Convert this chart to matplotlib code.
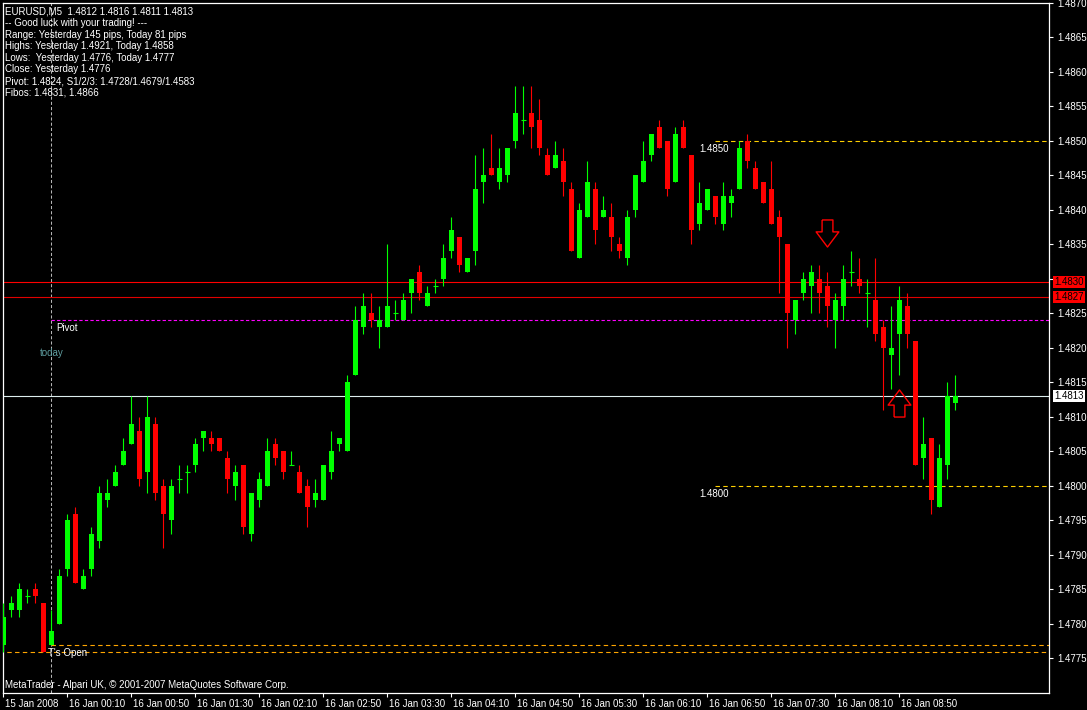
import numpy as np
import pandas as pd
import matplotlib
matplotlib.use('Agg')
import matplotlib.pyplot as plt
from matplotlib.path import Path
from matplotlib.transforms import ScaledTranslation, blended_transform_factory

plt.rcParams['font.family'] = ['Liberation Sans', 'DejaVu Sans']

# EURUSD M5, 15 Jan 2008 23:30 -> 16 Jan 2008 09:25
opens = np.array([
    1.4777, 1.4782, 1.4782, 1.4784, 1.4785, 1.4783, 1.4777, 1.4780, 1.4788, 1.4796,
    1.4785, 1.4788, 1.4792, 1.4798, 1.4800, 1.4803, 1.4806, 1.4808, 1.4802, 1.4809,
    1.4800, 1.4795, 1.4801, 1.4802, 1.4803, 1.4807, 1.4807, 1.4807, 1.4804, 1.4800,
    1.4803, 1.4793, 1.4798, 1.4800, 1.4806, 1.4805, 1.4803, 1.4802, 1.4800, 1.4798,
    1.4798, 1.4802, 1.4806, 1.4805, 1.4816, 1.4823, 1.4825, 1.4823, 1.4823, 1.4825,
    1.4824, 1.4828, 1.4831, 1.4826, 1.4829, 1.4830, 1.4834, 1.4836, 1.4831, 1.4834,
    1.4844, 1.4846, 1.4844, 1.4845, 1.4850, 1.4853, 1.4854, 1.4853, 1.4848, 1.4846,
    1.4847, 1.4843, 1.4833, 1.4839, 1.4843, 1.4839, 1.4839, 1.4835, 1.4833, 1.4840,
    1.4844, 1.4848, 1.4852, 1.4850, 1.4844, 1.4852, 1.4848, 1.4838, 1.4840, 1.4842,
    1.4838, 1.4841, 1.4843, 1.4850, 1.4846, 1.4844, 1.4843, 1.4839, 1.4835, 1.4824,
    1.4828, 1.4829, 1.4830, 1.4829, 1.4824, 1.4826, 1.4831, 1.4830, 1.4828, 1.4827,
    1.4823, 1.4819, 1.4822, 1.4826, 1.4821, 1.4804, 1.4807, 1.4797, 1.4803, 1.4812])
highs = np.array([
    1.4783, 1.4784, 1.4786, 1.4785, 1.4786, 1.4783, 1.4782, 1.4788, 1.4796, 1.4797,
    1.4788, 1.4794, 1.4800, 1.4801, 1.4803, 1.4807, 1.4813, 1.4810, 1.4813, 1.4810,
    1.4801, 1.4801, 1.4803, 1.4803, 1.4807, 1.4808, 1.4808, 1.4807, 1.4805, 1.4803,
    1.4803, 1.4799, 1.4802, 1.4807, 1.4807, 1.4805, 1.4805, 1.4803, 1.4801, 1.4801,
    1.4803, 1.4808, 1.4807, 1.4816, 1.4826, 1.4828, 1.4828, 1.4826, 1.4835, 1.4827,
    1.4828, 1.4830, 1.4832, 1.4829, 1.4830, 1.4835, 1.4839, 1.4836, 1.4833, 1.4848,
    1.4849, 1.4851, 1.4849, 1.4849, 1.4858, 1.4858, 1.4858, 1.4856, 1.4849, 1.4850,
    1.4849, 1.4844, 1.4841, 1.4847, 1.4844, 1.4842, 1.4841, 1.4836, 1.4840, 1.4845,
    1.4850, 1.4851, 1.4853, 1.4850, 1.4852, 1.4853, 1.4848, 1.4844, 1.4843, 1.4842,
    1.4844, 1.4843, 1.4850, 1.4851, 1.4847, 1.4844, 1.4847, 1.4840, 1.4835, 1.4827,
    1.4831, 1.4832, 1.4832, 1.4831, 1.4828, 1.4832, 1.4834, 1.4833, 1.4830, 1.4833,
    1.4824, 1.4826, 1.4829, 1.4828, 1.4821, 1.4810, 1.4807, 1.4806, 1.4815, 1.4816])
lows = np.array([
    1.4776, 1.4781, 1.4781, 1.4783, 1.4783, 1.4776, 1.4777, 1.4780, 1.4787, 1.4786,
    1.4785, 1.4787, 1.4791, 1.4797, 1.4800, 1.4803, 1.4806, 1.4800, 1.4799, 1.4798,
    1.4791, 1.4793, 1.4799, 1.4799, 1.4802, 1.4805, 1.4805, 1.4805, 1.4799, 1.4798,
    1.4793, 1.4792, 1.4797, 1.4800, 1.4803, 1.4801, 1.4803, 1.4799, 1.4794, 1.4797,
    1.4798, 1.4801, 1.4805, 1.4805, 1.4816, 1.4822, 1.4823, 1.4820, 1.4823, 1.4824,
    1.4824, 1.4825, 1.4827, 1.4826, 1.4828, 1.4829, 1.4833, 1.4831, 1.4831, 1.4832,
    1.4841, 1.4845, 1.4843, 1.4844, 1.4849, 1.4851, 1.4849, 1.4848, 1.4845, 1.4846,
    1.4842, 1.4834, 1.4833, 1.4839, 1.4835, 1.4839, 1.4834, 1.4833, 1.4832, 1.4839,
    1.4844, 1.4847, 1.4849, 1.4842, 1.4844, 1.4849, 1.4835, 1.4837, 1.4840, 1.4838,
    1.4837, 1.4839, 1.4843, 1.4846, 1.4843, 1.4841, 1.4838, 1.4828, 1.4820, 1.4822,
    1.4827, 1.4825, 1.4825, 1.4823, 1.4820, 1.4824, 1.4829, 1.4828, 1.4823, 1.4821,
    1.4811, 1.4814, 1.4816, 1.4820, 1.4803, 1.4801, 1.4796, 1.4797, 1.4801, 1.4811])
closes = np.array([
    1.4781, 1.4783, 1.4785, 1.4784, 1.4784, 1.4776, 1.4779, 1.4787, 1.4795, 1.4786,
    1.4787, 1.4793, 1.4799, 1.4799, 1.4802, 1.4805, 1.4809, 1.4801, 1.4810, 1.4799,
    1.4796, 1.4800, 1.4801, 1.4802, 1.4806, 1.4808, 1.4806, 1.4805, 1.4801, 1.4802,
    1.4794, 1.4799, 1.4801, 1.4805, 1.4804, 1.4802, 1.4803, 1.4799, 1.4797, 1.4799,
    1.4803, 1.4805, 1.4807, 1.4815, 1.4824, 1.4826, 1.4824, 1.4824, 1.4826, 1.4825,
    1.4827, 1.4830, 1.4828, 1.4828, 1.4829, 1.4833, 1.4837, 1.4832, 1.4833, 1.4843,
    1.4845, 1.4845, 1.4846, 1.4849, 1.4854, 1.4853, 1.4852, 1.4849, 1.4845, 1.4848,
    1.4844, 1.4834, 1.4840, 1.4844, 1.4837, 1.4840, 1.4836, 1.4834, 1.4839, 1.4845,
    1.4847, 1.4851, 1.4849, 1.4843, 1.4851, 1.4849, 1.4837, 1.4841, 1.4843, 1.4839,
    1.4842, 1.4842, 1.4849, 1.4847, 1.4843, 1.4841, 1.4838, 1.4836, 1.4825, 1.4827,
    1.4830, 1.4831, 1.4828, 1.4826, 1.4827, 1.4830, 1.4831, 1.4829, 1.4828, 1.4822,
    1.4820, 1.4820, 1.4827, 1.4822, 1.4803, 1.4806, 1.4798, 1.4804, 1.4813, 1.4813])

bar_times = pd.date_range('2008-01-15 23:30', periods=len(opens), freq='5min')

header_lines = [
    "EURUSD,M5  1.4812 1.4816 1.4811 1.4813",
    "-- Good luck with your trading! ---",
    "Range: Yesterday 145 pips, Today 81 pips",
    "Highs: Yesterday 1.4921, Today 1.4858",
    "Lows:  Yesterday 1.4776, Today 1.4777",
    "Close: Yesterday 1.4776",
    "Pivot: 1.4824, S1/2/3: 1.4728/1.4679/1.4583",
    "Fibos: 1.4831, 1.4866",
]

today_bar = 6            # 16 Jan 00:00
today_open = 1.4777
yesterday_close = 1.4776
pivot = 1.4824
level_prices = [1.4850, 1.4800]
level_start_bar = 89
level_label_bar = 87
hline_prices = [1.48295, 1.48274]
hline_labels = ['1.4830', '1.4827']
hline_colors = ['#FF0000', '#E00000']
bid = 1.4813
sell_bars, sell_prices = [103], [1.48366]
buy_bars, buy_prices = [112], [1.48120]

W, H = 1087, 710
fig = plt.figure(figsize=(W / 100, H / 100), dpi=100, facecolor='black')
ax = fig.add_axes([2.7 / W, 17 / H, 1046.3 / W, 690.3 / H])
ax.set_facecolor('black')
ax.set_xlim(-0.1, 130.69)
ax.set_ylim(1.4770, 1.4870)

FS = 7

# candles
x = np.arange(len(opens))
up = closes >= opens
cols = np.where(up, '#00FF00', '#FF0000')
ax.vlines(x, lows, highs, colors=cols, lw=0.8, zorder=3)
body = np.abs(closes - opens)
has_body = body > 1e-9
ax.bar(x[has_body], body[has_body], bottom=np.minimum(opens, closes)[has_body],
       width=0.62, color=cols[has_body], linewidth=0, zorder=4)
doji = ~has_body
ax.hlines(opens[doji], x[doji] - 0.35, x[doji] + 0.35, colors=cols[doji], lw=0.8, zorder=4)

# separator + indicator lines
ax.axvline(today_bar, color='#B4B4B4', lw=0.75, ls=(0, (3, 2)), zorder=2)
ax.hlines(pivot, today_bar, 140, color='#FF00FF', lw=0.8, ls=(0, (3, 2)), zorder=2)
ax.hlines(today_open, today_bar, 140, color='#FFA500', lw=0.8, ls=(0, (4, 3)), zorder=2)
ax.hlines(yesterday_close, -1, 140, color='#FFA500', lw=0.8, ls=(0, (4, 3)), zorder=2)
ax.hlines(level_prices, level_start_bar, 140, color='#FFD000', lw=0.8, ls=(0, (4, 3)), zorder=2)
for p, c in zip(hline_prices, hline_colors):
    ax.axhline(p, color=c, lw=0.8, zorder=2)
ax.axhline(bid, color='#DDEEEE', lw=0.8, zorder=2)

for p in level_prices:
    ax.annotate(f'{p:.4f}', xy=(level_label_bar, p), xytext=(0, -3), textcoords='offset pixels',
                ha='left', va='top', color='white', fontsize=FS)
ax.annotate('Pivot', xy=(today_bar, pivot), xytext=(5, -3), textcoords='offset pixels',
            ha='left', va='top', color='white', fontsize=FS)
ax.annotate("T's Open", xy=(today_bar, today_open), xytext=(-3.5, -3), textcoords='offset pixels',
            ha='left', va='top', color='white', fontsize=FS)
ax.text(today_bar, 1.48193, 'today', ha='center', va='center', color='#5F9EA0', fontsize=FS)

# signal arrows (hollow)
down_arrow = Path([(-0.2, 0.5), (0.2, 0.5), (0.2, 0.06), (0.42, 0.06), (0, -0.5),
                   (-0.42, 0.06), (-0.2, 0.06), (-0.2, 0.5)])
up_arrow = Path([(vx, -vy) for vx, vy in down_arrow.vertices])
ax.plot(sell_bars, sell_prices, ls='none', marker=down_arrow, ms=19.5, mfc='none', mec='#FF0000', mew=1.0, zorder=5)
ax.plot(buy_bars, buy_prices, ls='none', marker=up_arrow, ms=19.5, mfc='none', mec='#FF0000', mew=1.0, zorder=5)

# frame
for s in ax.spines.values():
    s.set_color('white')
    s.set_linewidth(0.9)

# price axis on the right (the 1.4830 label sits under the line tag)
ax.yaxis.tick_right()
yt = [1.4775 + 0.0005 * k for k in range(20)]
ax.set_yticks(yt)
ax.set_yticklabels(['' if abs(v - 1.4830) < 1e-6 else f'{v:.4f}' for v in yt])
ax.tick_params(axis='y', colors='white', direction='out', length=3, width=0.8, pad=3, labelsize=FS)

# time axis
tick_idx = list(range(0, len(bar_times), 8))
tick_lab = []
for i in tick_idx:
    t = bar_times[i]
    tick_lab.append(f'{t.day} {t:%b %Y}' if i == 0 else f'{t.day} {t:%b %H:%M}')
ax.set_xticks(tick_idx)
ax.set_xticklabels(tick_lab, ha='left')
ax.tick_params(axis='x', colors='white', direction='out', length=3, width=0.8, pad=1, labelsize=FS)
shift = ScaledTranslation(2 / 100, 0, fig.dpi_scale_trans)
for lab in ax.get_xticklabels():
    lab.set_transform(lab.get_transform() + shift)

# price tags on the axis
tr = blended_transform_factory(ax.transAxes, ax.transData)
for p, lab in zip(hline_prices, hline_labels):
    ax.text(1.0049, p, lab, transform=tr, ha='left', va='center', color='black', fontsize=FS,
            bbox=dict(facecolor='#FF0000', edgecolor='none', pad=0.7), clip_on=False, zorder=10)
ax.text(1.0049, bid, f'{bid:.4f}', transform=tr, ha='left', va='center', color='black', fontsize=FS,
        bbox=dict(facecolor='white', edgecolor='none', pad=0.9), clip_on=False, zorder=10)

# header and footer text
for k, line in enumerate(header_lines):
    fig.text(5 / W, 1 - (6.5 + 11.6 * k) / H, line, ha='left', va='top', color='white', fontsize=FS)
fig.text(5 / W, 1 - 680 / H, 'MetaTrader - Alpari UK, © 2001-2007 MetaQuotes Software Corp.',
         ha='left', va='top', color='white', fontsize=FS)

fig.savefig('out.png', dpi=100, facecolor='black')
